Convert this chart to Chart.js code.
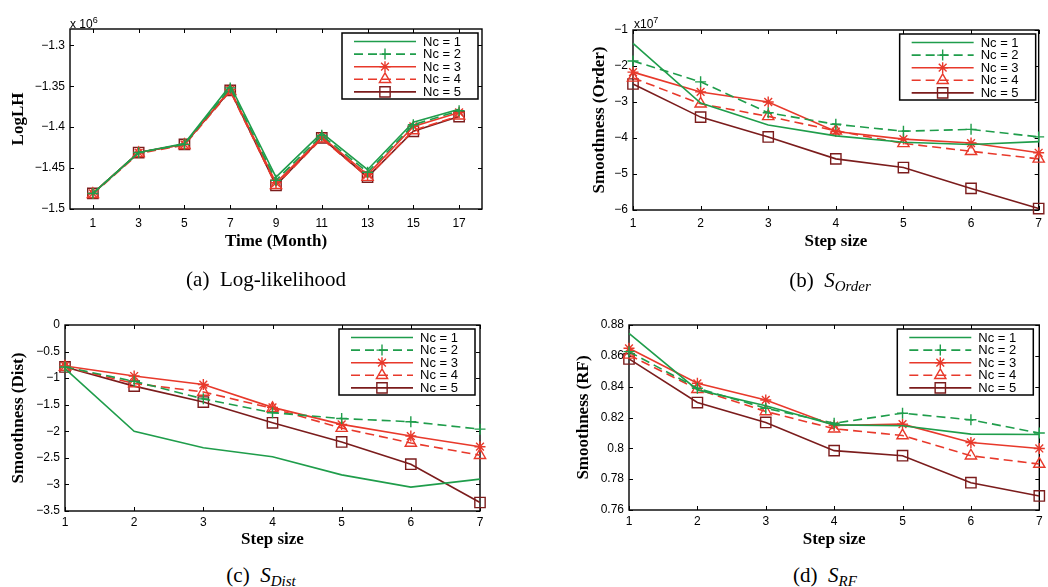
<!DOCTYPE html>
<html>
<head>
<meta charset="utf-8">
<script src="https://cdn.jsdelivr.net/npm/chart.js@4"></script>
<style>
  body { margin: 0; background: #fff; }
  #page { position: relative; width: 1048px; height: 587px; overflow: hidden; }
  canvas { position: absolute; }
  .cap { position: absolute; transform: translateX(-50%); font: 21px/24px "Liberation Serif", serif; white-space: nowrap; color: #000; }
  .cap sub { font-size: 15px; font-style: italic; vertical-align: -4px; }
  .exp { position: absolute; font: 12px "Liberation Sans", Arial, sans-serif; color: #000; }
  .exp sup { font-size: 9px; vertical-align: 5px; }
</style>
</head>
<body>
<div id="page">
  <canvas id="chart_a" width="524" height="260" style="left:0;top:0"></canvas>
  <canvas id="chart_b" width="524" height="260" style="left:524px;top:0"></canvas>
  <canvas id="chart_c" width="524" height="270" style="left:0;top:290px"></canvas>
  <canvas id="chart_d" width="524" height="270" style="left:524px;top:290px"></canvas>
  <div class="exp" style="left:70px;top:15px">x 10<sup>6</sup></div>
  <div class="exp" style="left:634px;top:15px">x10<sup>7</sup></div>
  <div class="cap" style="left:266px;top:267px">(a)&nbsp; Log-likelihood</div>
  <div class="cap" style="left:830px;top:268px">(b)&nbsp; <i>S</i><sub>Order</sub></div>
  <div class="cap" style="left:261px;top:563px">(c)&nbsp; <i>S</i><sub>Dist</sub></div>
  <div class="cap" style="left:825px;top:563px">(d)&nbsp; <i>S</i><sub>RF</sub></div>
</div>
<script>
// categories
var meses = [1, 3, 5, 7, 9, 11, 13, 15, 17];
var pasos = [1, 2, 3, 4, 5, 6, 7];
var nombres = ['Nc = 1', 'Nc = 2', 'Nc = 3', 'Nc = 4', 'Nc = 5'];

// (a) log-likelihood (x 10^6)
var loglh_1 = [-1.481, -1.431, -1.420, -1.349, -1.461, -1.407, -1.452, -1.394, -1.378];
var loglh_2 = [-1.481, -1.431, -1.421, -1.352, -1.465, -1.410, -1.455, -1.397, -1.380];
var loglh_3 = [-1.481, -1.431, -1.421, -1.354, -1.468, -1.412, -1.458, -1.399, -1.382];
var loglh_4 = [-1.482, -1.432, -1.422, -1.356, -1.471, -1.414, -1.461, -1.404, -1.386];
var loglh_5 = [-1.481, -1.431, -1.421, -1.355, -1.471, -1.413, -1.461, -1.405, -1.387];

// (b) smoothness order (x 10^7)
var orden_1 = [-1.37, -3.03, -3.64, -3.94, -4.12, -4.18, -4.10];
var orden_2 = [-1.86, -2.44, -3.30, -3.62, -3.81, -3.76, -3.97];
var orden_3 = [-2.17, -2.72, -3.00, -3.82, -4.03, -4.14, -4.41];
var orden_4 = [-2.33, -3.05, -3.40, -3.80, -4.15, -4.37, -4.58];
var orden_5 = [-2.50, -3.42, -3.97, -4.58, -4.82, -5.40, -5.96];

// (c) smoothness dist
var dist_1 = [-0.82, -2.00, -2.31, -2.48, -2.82, -3.05, -2.90];
var dist_2 = [-0.79, -1.06, -1.39, -1.65, -1.76, -1.82, -1.96];
var dist_3 = [-0.77, -0.96, -1.12, -1.55, -1.87, -2.09, -2.29];
var dist_4 = [-0.79, -1.10, -1.26, -1.57, -1.94, -2.22, -2.45];
var dist_5 = [-0.79, -1.15, -1.45, -1.84, -2.20, -2.62, -3.34];

// (d) smoothness RF
var rf_1 = [0.8746, 0.8379, 0.8276, 0.8152, 0.8146, 0.8092, 0.8090];
var rf_2 = [0.8627, 0.8390, 0.8260, 0.8163, 0.8228, 0.8185, 0.8099];
var rf_3 = [0.8649, 0.8422, 0.8314, 0.8148, 0.8157, 0.8038, 0.7999];
var rf_4 = [0.8606, 0.8383, 0.8239, 0.8127, 0.8083, 0.7952, 0.7898];
var rf_5 = [0.8580, 0.8297, 0.8168, 0.7985, 0.7952, 0.7777, 0.7691];

// tick labels
var ticks_a = [-1.5, -1.45, -1.4, -1.35, -1.3];
var ticks_b = [-6, -5, -4, -3, -2, -1];
var ticks_c = [-3.5, -3, -2.5, -2, -1.5, -1, -0.5, 0];
var ticks_d = [0.76, 0.78, 0.8, 0.82, 0.84, 0.86, 0.88];

var VERDE = '#1f9d4b', ROJO = '#e8392b', GRANATE = '#7b1c1c';
var estilos = [
    { color: VERDE, dash: [], punto: 'circle', radio: 0 },
    { color: VERDE, dash: [9, 5], punto: 'cross', radio: 5.5 },
    { color: ROJO, dash: [], punto: 'star', radio: 5.5 },
    { color: ROJO, dash: [9, 5], punto: 'triangle', radio: 6.5 },
    { color: GRANATE, dash: [], punto: 'rect', radio: 7.3 }
];

// marco con marcas hacia dentro
var marco = {
    id: 'marco',
    beforeDatasetsDraw: function(chart) {
        var ctx = chart.ctx, a = chart.chartArea, x = chart.scales.x, y = chart.scales.y;
        ctx.save();
        ctx.strokeStyle = '#000';
        ctx.lineWidth = 1;
        ctx.beginPath();
        x.ticks.forEach(function(t) {
            var px = Math.round(x.getPixelForValue(t.value)) + 0.5;
            ctx.moveTo(px, a.bottom); ctx.lineTo(px, a.bottom - 4);
            ctx.moveTo(px, a.top); ctx.lineTo(px, a.top + 4);
        });
        y.ticks.forEach(function(t) {
            var py = Math.round(y.getPixelForValue(t.value)) + 0.5;
            ctx.moveTo(a.left, py); ctx.lineTo(a.left + 4, py);
            ctx.moveTo(a.right, py); ctx.lineTo(a.right - 4, py);
        });
        ctx.stroke();
        ctx.lineWidth = 1.4;
        ctx.strokeRect(a.left, a.top, a.right - a.left, a.bottom - a.top);
        ctx.restore();
    }
};

// leyenda en caja
var leyenda = {
    id: 'leyenda',
    afterDatasetsDraw: function(chart, args, opts) {
        var ctx = chart.ctx, a = chart.chartArea;
        var w = 136, h = 66;
        var bx = a.right - opts.right - w, by = a.top + opts.top;
        ctx.save();
        ctx.fillStyle = '#fff';
        ctx.fillRect(bx, by, w, h);
        ctx.lineWidth = 1.5;
        ctx.strokeStyle = '#000';
        ctx.strokeRect(bx, by, w, h);
        chart.data.datasets.forEach(function(ds, i) {
            var cy = by + 8.5 + i * 12.6;
            ctx.strokeStyle = ds.borderColor;
            ctx.lineWidth = ds.borderWidth;
            ctx.setLineDash(ds.borderDash);
            ctx.beginPath();
            ctx.moveTo(bx + 12, cy);
            ctx.lineTo(bx + 74, cy);
            ctx.stroke();
            ctx.setLineDash([]);
            if (ds.pointRadius > 0) {
                ctx.fillStyle = 'rgba(0,0,0,0)';
                ctx.lineWidth = ds.pointBorderWidth;
                Chart.helpers.drawPoint(ctx, { pointStyle: ds.pointStyle, radius: ds.pointRadius, borderWidth: ds.pointBorderWidth, rotation: 0 }, bx + 43, cy);
            }
            ctx.fillStyle = '#000';
            ctx.font = '13px "Liberation Sans", Arial, sans-serif';
            ctx.textBaseline = 'middle';
            ctx.fillText(ds.label, bx + 81, cy + 0.5);
        });
        ctx.restore();
    }
};

function series(xs, lista) {
    return lista.map(function(vals, i) {
        var e = estilos[i];
        return {
            label: nombres[i],
            data: xs.map(function(v, k) { return { x: v, y: vals[k] }; }),
            borderColor: e.color,
            backgroundColor: e.color,
            borderWidth: 1.6,
            borderDash: e.dash,
            pointStyle: e.punto,
            pointRadius: e.radio,
            pointHoverRadius: e.radio,
            pointBorderColor: e.color,
            pointBackgroundColor: 'rgba(0,0,0,0)',
            pointBorderWidth: 1.4,
            tension: 0,
            clip: false
        };
    });
}

function menos(v) {
    return String(v).replace('-', '\u2212');
}

function grafico(id, cfg) {
    var fuenteTick = { family: '"Liberation Sans", Arial, sans-serif', size: 12 };
    var fuenteTitulo = { family: '"Liberation Serif", "Times New Roman", serif', size: 17, weight: 'bold' };
    return new Chart(document.getElementById(id).getContext('2d'), {
        type: 'line',
        data: { datasets: cfg.datasets },
        options: {
            responsive: false,
            animation: false,
            devicePixelRatio: 1,
            layout: { padding: { top: cfg.padTop, right: cfg.padRight, bottom: 0, left: 0 } },
            plugins: {
                legend: { display: false },
                tooltip: { enabled: false },
                leyenda: { right: cfg.legRight, top: 4 }
            },
            scales: {
                x: {
                    type: 'linear',
                    min: cfg.xmin, max: cfg.xmax,
                    grid: { display: false, drawTicks: false },
                    border: { display: false },
                    afterBuildTicks: function(s) { s.ticks = cfg.xticks.map(function(v) { return { value: v }; }); },
                    afterFit: function(s) { s.height = cfg.xh; },
                    ticks: { color: '#000', font: fuenteTick, padding: cfg.xpad, maxRotation: 0, callback: function(v) { return String(v); } },
                    title: { display: true, text: cfg.xtitle, color: '#000', font: fuenteTitulo, padding: { top: 0, bottom: cfg.xtitlePad } }
                },
                y: {
                    type: 'linear',
                    min: cfg.ymin, max: cfg.ymax,
                    grid: { display: false, drawTicks: false },
                    border: { display: false },
                    afterBuildTicks: function(s) { s.ticks = cfg.yticks.map(function(v) { return { value: v }; }); },
                    afterFit: function(s) { s.width = cfg.yw; },
                    ticks: { color: '#000', font: fuenteTick, padding: 5, callback: function(v) { return menos(v); } },
                    title: { display: true, text: cfg.ytitle, color: '#000', font: fuenteTitulo, padding: { top: cfg.ytitlePad, bottom: 0 } }
                }
            }
        },
        plugins: [marco, leyenda]
    });
}

grafico('chart_a', {
    datasets: series(meses, [loglh_1, loglh_2, loglh_3, loglh_4, loglh_5]),
    xmin: 0, xmax: 18, xticks: meses,
    ymin: -1.5, ymax: -1.28, yticks: ticks_a,
    padTop: 29, padRight: 42, yw: 70, xh: 51, xpad: 7,
    xtitle: 'Time (Month)', xtitlePad: 8,
    ytitle: 'LogLH', ytitlePad: 8, legRight: 4
});

grafico('chart_b', {
    datasets: series(pasos, [orden_1, orden_2, orden_3, orden_4, orden_5]),
    xmin: 1, xmax: 7, xticks: pasos,
    ymin: -6, ymax: -1, yticks: ticks_b,
    padTop: 30, padRight: 2, yw: 109, xh: 50, xpad: 6,
    xtitle: 'Step size', xtitlePad: 8,
    ytitle: 'Smoothness (Order)', ytitlePad: 65, legRight: 3
});

grafico('chart_c', {
    datasets: series(pasos, [dist_1, dist_2, dist_3, dist_4, dist_5]),
    xmin: 1, xmax: 7, xticks: pasos,
    ymin: -3.5, ymax: 0, yticks: ticks_c,
    padTop: 35, padRight: 44, yw: 65, xh: 49, xpad: 4,
    xtitle: 'Step size', xtitlePad: 10,
    ytitle: 'Smoothness (Dist)', ytitlePad: 8, legRight: 5
});

grafico('chart_d', {
    datasets: series(pasos, [rf_1, rf_2, rf_3, rf_4, rf_5]),
    xmin: 1, xmax: 7, xticks: pasos,
    ymin: 0.76, ymax: 0.88, yticks: ticks_d,
    padTop: 35, padRight: 3, yw: 105, xh: 50, xpad: 4,
    xtitle: 'Step size', xtitlePad: 10,
    ytitle: 'Smoothness (RF)', ytitlePad: 49, legRight: 6
});
</script>
</body>
</html>
